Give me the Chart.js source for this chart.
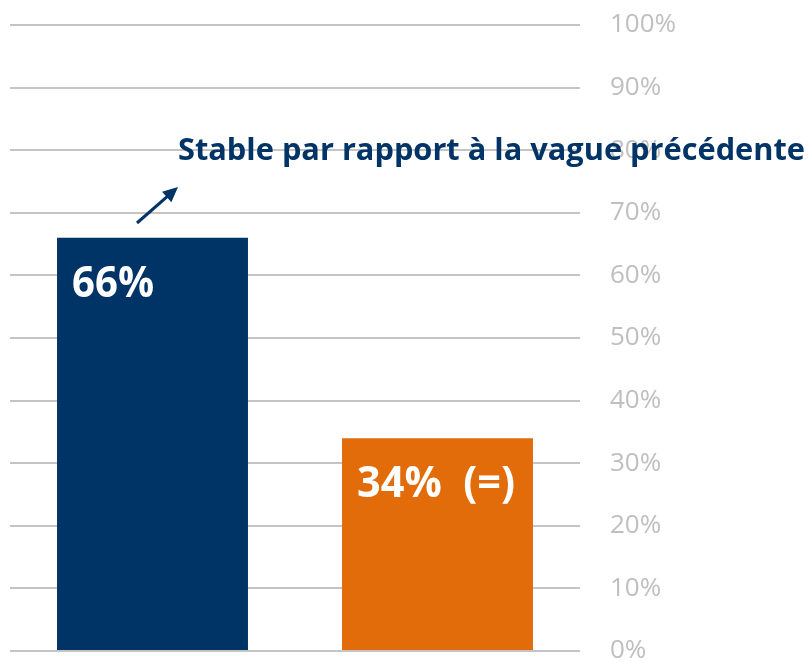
<!DOCTYPE html>
<html>
<head>
<meta charset="utf-8">
<script src="https://cdn.jsdelivr.net/npm/chart.js@4"></script>
<style>
  html, body { margin: 0; padding: 0; background: #ffffff; }
  canvas { display: block; }
</style>
</head>
<body>
<canvas id="chart" width="809" height="663"></canvas>
<script>
// values
const categories = ['Groupe 1', 'Groupe 2'];
const shares = [66, 34];
const shareNotes = ['', '(=)'];
const barColours = ['#003366', '#E36C0A'];
const tickValues = [0, 10, 20, 30, 40, 50, 60, 70, 80, 90, 100];
const headline = 'Stable par rapport à la vague précédente';

const navy = '#003366';

// white value labels in the top-left corner of each bar
const barLabels = {
    id: 'barLabels',
    afterDatasetsDraw(chart) {
        const ctx = chart.ctx;
        const meta = chart.getDatasetMeta(0);
        ctx.save();
        ctx.fillStyle = '#ffffff';
        ctx.font = "bold 43px 'Open Sans', sans-serif";
        ctx.textAlign = 'left';
        ctx.textBaseline = 'alphabetic';
        meta.data.forEach((bar, i) => {
            const left = bar.x - bar.width / 2;
            const text = shares[i] + '%' + (shareNotes[i] ? '  ' + shareNotes[i] : '');
            const maxW = shareNotes[i] ? 158 : 82;
            ctx.fillText(text, left + 15, bar.y + 59, maxW);
        });
        ctx.restore();
    }
};

// headline text with its arrow
const headlineNote = {
    id: 'headlineNote',
    afterDraw(chart) {
        const ctx = chart.ctx;
        ctx.save();
        ctx.fillStyle = navy;
        ctx.strokeStyle = navy;
        ctx.font = "bold 31px 'Open Sans', sans-serif";
        ctx.textAlign = 'left';
        ctx.textBaseline = 'alphabetic';
        ctx.fillText(headline, 178, 160, 627);

        const x1 = 137, y1 = 223, x2 = 178, y2 = 187;
        const ang = Math.atan2(y2 - y1, x2 - x1);
        ctx.lineWidth = 3;
        ctx.beginPath();
        ctx.moveTo(x1, y1);
        ctx.lineTo(x2 - 8 * Math.cos(ang), y2 - 8 * Math.sin(ang));
        ctx.stroke();
        ctx.beginPath();
        ctx.moveTo(x2, y2);
        ctx.lineTo(x2 - 15 * Math.cos(ang) + 7 * Math.sin(ang), y2 - 15 * Math.sin(ang) - 7 * Math.cos(ang));
        ctx.lineTo(x2 - 15 * Math.cos(ang) - 7 * Math.sin(ang), y2 - 15 * Math.sin(ang) + 7 * Math.cos(ang));
        ctx.closePath();
        ctx.fill();
        ctx.restore();
    }
};

new Chart(document.getElementById('chart'), {
    type: 'bar',
    data: {
        labels: categories,
        datasets: [{
            data: shares,
            backgroundColor: barColours,
            borderWidth: 0,
            barPercentage: 0.67,
            categoryPercentage: 1
        }]
    },
    options: {
        responsive: false,
        animation: false,
        devicePixelRatio: 1,
        layout: { padding: { left: 10, top: 25, bottom: 12, right: 0 } },
        plugins: {
            legend: { display: false },
            tooltip: { enabled: false }
        },
        scales: {
            x: { display: false },
            y: {
                position: 'right',
                min: 0,
                max: 100,
                afterBuildTicks: scale => {
                    scale.ticks = tickValues.map(v => ({ value: v }));
                },
                afterFit: scale => {
                    scale.width = 229;
                    scale.paddingTop = 0;
                    scale.paddingBottom = 0;
                },
                border: { display: false },
                grid: {
                    color: '#c4c4c4',
                    lineWidth: 2,
                    drawTicks: false
                },
                ticks: {
                    padding: 30,
                    color: '#bfbfbf',
                    font: { family: "'Open Sans', sans-serif", size: 26 },
                    callback: v => v + '%'
                }
            }
        }
    },
    plugins: [barLabels, headlineNote]
});
</script>
</body>
</html>
